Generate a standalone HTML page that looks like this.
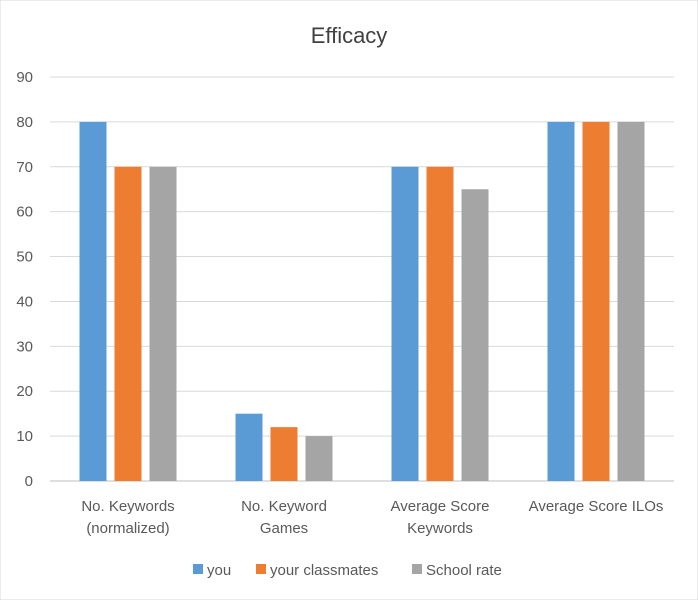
<!DOCTYPE html>
<html><head><meta charset="utf-8"><style>
body{margin:0;background:#fff;font-family:"Liberation Sans",sans-serif;}
svg text{font-family:"Liberation Sans",sans-serif;fill:#595959;}
</style></head><body>
<svg id="chart" width="698" height="600" xmlns="http://www.w3.org/2000/svg">
<rect width="698" height="600" fill="#fff" stroke="#d9d9d9"/>
<text x="349" y="43" text-anchor="middle" font-size="22" style="fill:#404040">Efficacy</text>
<g id="grid"></g><g id="bars"></g><g id="labels"></g><g id="legend"></g>
</svg>
<script>
const categories=[["No. Keywords","(normalized)"],["No. Keyword","Games"],["Average Score","Keywords"],["Average Score ILOs"]];
const seriesNames=["you","your classmates","School rate"];
const youVals=[80,15,70,80];
const classVals=[70,12,70,80];
const schoolVals=[70,10,65,80];
const yTicks=[0,10,20,30,40,50,60,70,80,90];
const colors=["#5B9BD5","#ED7D31","#A5A5A5"];
const series=[youVals,classVals,schoolVals];
const NS="http://www.w3.org/2000/svg";
const x0=50,catW=156,y0=481,yTop=77,yMax=90,barW=27,gap=8;
const y=v=>y0-(v/yMax)*(y0-yTop);
function mk(tag,attrs,parent){const e=document.createElementNS(NS,tag);for(const k in attrs)e.setAttribute(k,attrs[k]);document.getElementById(parent).appendChild(e);return e;}
yTicks.forEach(t=>{
 const l=mk('line',{x1:x0,x2:x0+catW*categories.length,y1:y(t),y2:y(t),stroke:t===0?'#bfbfbf':'#d9d9d9'},'grid');
 
 
 const tx=mk('text',{x:33,y:y(t)+5,'text-anchor':'end','font-size':15},'grid');tx.textContent=t;
 
 
});
categories.forEach((c,i)=>{
 const cx=x0+catW*(i+0.5);
 series.forEach((s,j)=>{
  const bx=cx+(j-1)*(barW+gap)-barW/2;
  const r=mk('rect',{x:bx,y:y(s[i]),width:barW,height:y0-y(s[i]),fill:colors[j]},'bars');
  
  
 });
 c.forEach((line,k)=>{
  const t=mk('text',{x:cx,y:511+k*22,'text-anchor':'middle','font-size':15},'labels');t.textContent=line;
  
  
 });
});
const legX=[193,256,412];
seriesNames.forEach((n,j)=>{
 const r=mk('rect',{x:legX[j],y:564,width:10,height:10,fill:colors[j]},'legend');
 
 
 const t=mk('text',{x:legX[j]+14,y:575,'font-size':15},'legend');t.textContent=n;
 
 
});
</script>
</body></html>
